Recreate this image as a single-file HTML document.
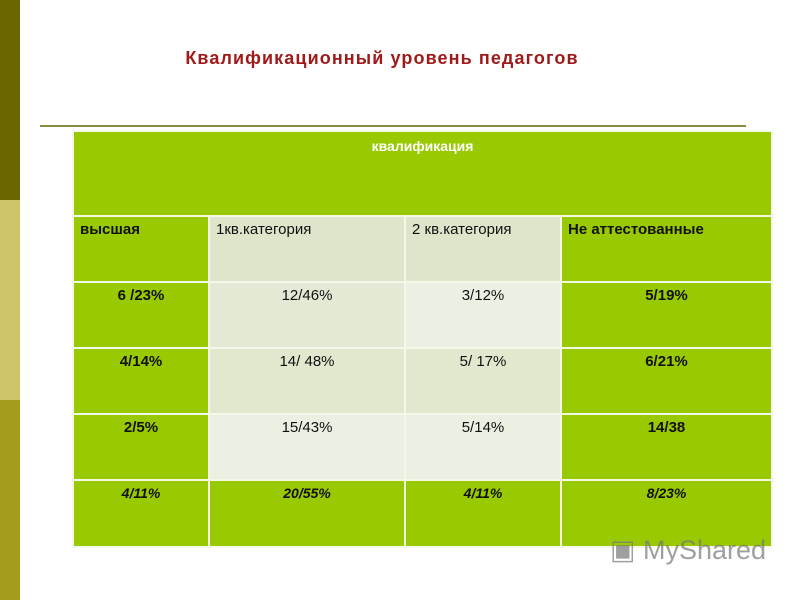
<!DOCTYPE html>
<html><head><meta charset="utf-8"><style>
body{margin:0;width:800px;height:600px;background:#fff;position:relative;overflow:hidden;font-family:"Liberation Sans","DejaVu Sans",sans-serif}
.bar{position:absolute;left:0;width:20px}
#title{position:absolute;left:0;width:764px;top:48px;text-align:center;font-weight:bold;font-size:18px;letter-spacing:1.1px;color:#a01a1a}
#rule{position:absolute;left:40px;top:125px;width:706px;height:2px;background:#8a8a40}
table{position:absolute;left:72px;top:130px;width:701px;border-collapse:collapse;font-size:15px;color:#111}
td{border:2px solid #f4f8e8;vertical-align:top;padding:4px 6px;height:56px}
.g{background:#99c900}
.l1{background:#dde6ca}.l2{background:#e2e9d4}.l3{background:#e0e8ce}.l4{background:#ebf0e3}
.c{text-align:center}.b{font-weight:bold}.i{font-style:italic;font-weight:bold;font-size:14px}
#wm{position:absolute;left:610px;top:535px;font-size:27px;color:#777;opacity:.7}
</style></head><body>
<div class="bar" style="top:0;height:200px;background:#6b6600"></div>
<div class="bar" style="top:200px;height:200px;background:#cfc46a"></div>
<div class="bar" style="top:400px;height:200px;background:#a39c1c"></div>
<div id="title">Квалификационный уровень педагогов</div>
<div id="rule"></div>
<table>
<tr><td colspan="4" class="g c b" style="height:73px;color:#fff;font-size:14px;padding-top:6px">квалификация</td></tr>
<tr>
<td class="g b" style="width:122px">высшая</td><td class="l1" style="width:182px">1кв.категория</td><td class="l1" style="width:142px">2 кв.категория</td><td class="g b">Не аттестованные</td></tr>
<tr><td class="g b c">6 /23%</td><td class="l2 c">12/46%</td><td class="l4 c">3/12%</td><td class="g b c">5/19%</td></tr>
<tr><td class="g b c">4/14%</td><td class="l3 c">14/ 48%</td><td class="l3 c">5/ 17%</td><td class="g b c">6/21%</td></tr>
<tr><td class="g b c">2/5%</td><td class="l4 c">15/43%</td><td class="l4 c">5/14%</td><td class="g b c">14/38</td></tr>
<tr><td class="g i c" style="height:57px">4/11%</td><td class="g i c">20/55%</td><td class="g i c">4/11%</td><td class="g i c">8/23%</td></tr>
</table>
<div id="wm">▣ MyShared</div>
</body></html>
